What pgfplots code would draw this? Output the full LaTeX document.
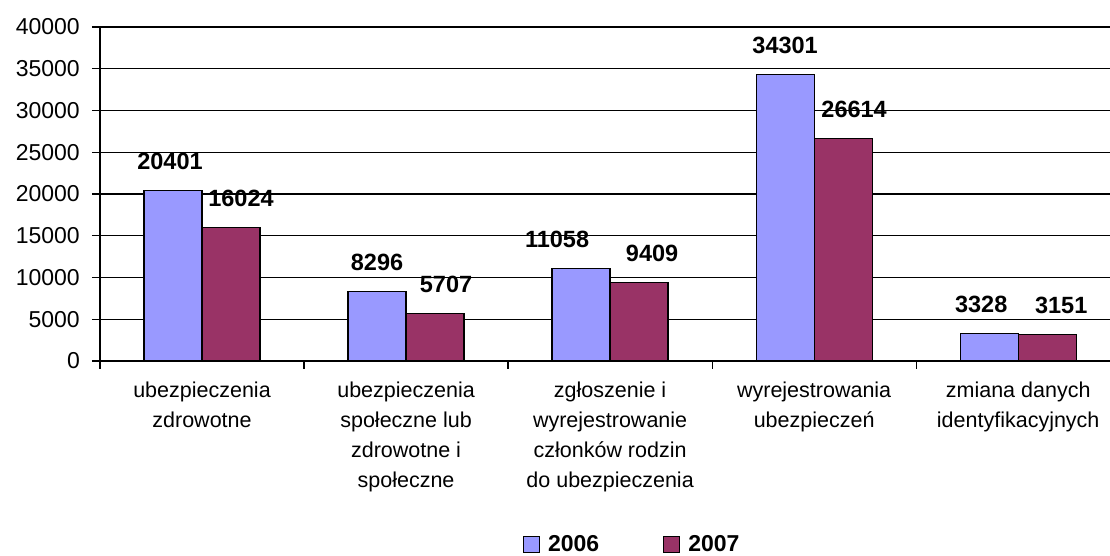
\documentclass[border=0pt]{standalone}
\usepackage{pgfplots}
\usepackage{pgfplotstable}
\pgfplotsset{compat=1.18}
\usepackage{fontspec}
\setmainfont{Liberation Sans}
\definecolor{c06}{HTML}{9999FF}
\definecolor{c07}{HTML}{993366}
\pgfplotsset{sqlegend/.style={legend image code/.code={\draw[##1,line width=1pt] (0pt,-8pt) rectangle (16pt,8pt);}}}
\pgfplotstableread{
x y dx
0 20401 -3
1 8296 0
2 11058 -24
3 34301 0
4 3328 -8
}\tA
\pgfplotstableread{
x y dx
0 16024 10
1 5707 11
2 9409 13
3 26614 11
4 3151 14
}\tB
\begin{document}
\begin{tikzpicture}
\begin{axis}[
  at={(100pt,195pt)}, anchor=south west,
  width=1010pt, height=334pt, scale only axis,
  xmin=-0.5, xmax=4.45, ymin=0, ymax=40000,
  ybar=0pt, bar width=58pt,
  axis x line*=bottom, axis y line*=left,
  x axis line style={line width=1.8pt},
  y axis line style={line width=1.4pt},
  ymajorgrids, grid style={black, line width=1.2pt},
  ytick={0,5000,...,40000}, scaled y ticks=false,
  /pgf/number format/1000 sep={},
  yticklabel style={font=\fontsize{23}{23}\selectfont, /pgf/number format/assume math mode=true, inner sep=0pt, xshift=-12pt},
  tick align=outside, major tick length=8pt, tick style={black, line width=1.2pt},
  xtick={-0.5,0.5,1.5,2.5,3.5}, xticklabels={},
  extra x ticks={0,1,2,3,4},
  extra x tick labels={{ubezpieczenia\\zdrowotne},{ubezpieczenia\\społeczne lub\\zdrowotne i\\społeczne},{zgłoszenie i\\wyrejestrowanie\\członków rodzin\\do ubezpieczenia},{wyrejestrowania\\ubezpieczeń},{zmiana danych\\identyfikacyjnych}},
  extra x tick style={major tick length=0pt, grid=none},
  xticklabel style={align=center, font=\fontsize{21.5}{30}\selectfont, anchor=north, inner sep=0pt, yshift=-21pt},
  nodes near coords,
  visualization depends on={\thisrow{dx} \as \dx},
  nodes near coords style={font=\bfseries\fontsize{23.5}{23.5}\selectfont, anchor=south, inner sep=0pt, yshift=20pt, xshift=\dx pt, /pgf/number format/assume math mode=true},
  legend style={at={(0.527,-0.548)}, anchor=center, draw=none, fill=none, font=\bfseries\fontsize{23}{23}\selectfont, legend columns=2, /tikz/every odd column/.append style={column sep=6pt}, /tikz/every even column/.append style={column sep=62pt}},
]
\addplot[fill=c06, draw=black, line width=1.3pt, sqlegend] table[x=x,y=y]{\tA};
\addplot[fill=c07, draw=black, line width=1.3pt, sqlegend] table[x=x,y=y]{\tB};
\legend{2006,2007}
\end{axis}
\pgfresetboundingbox
\path[use as bounding box] (0,0) rectangle (1110pt,556pt);
\end{tikzpicture}
\end{document}
